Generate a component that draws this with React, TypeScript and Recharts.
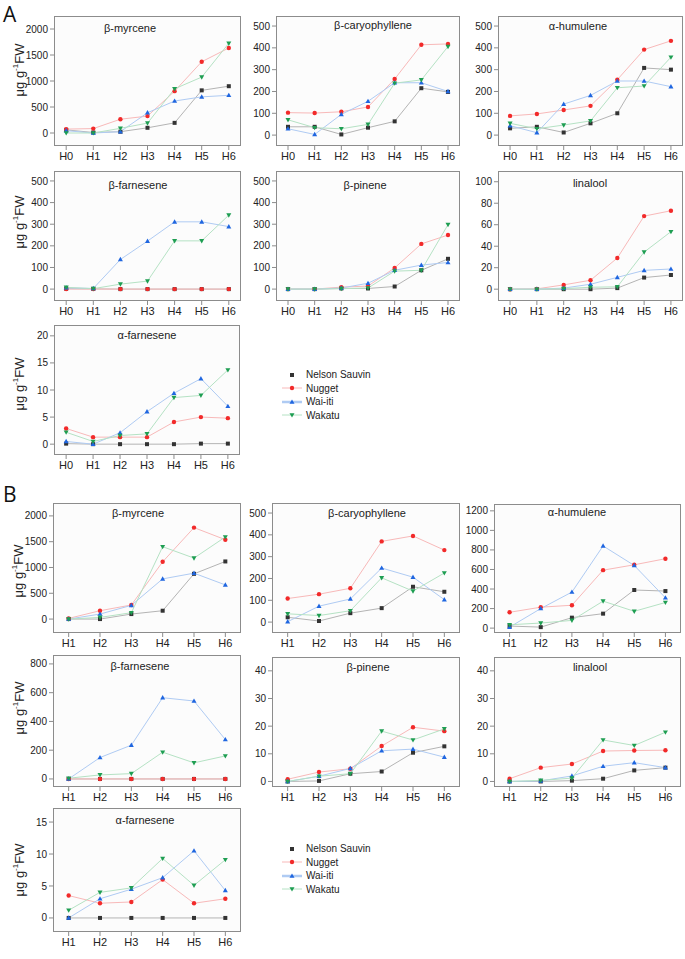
import { LineChart, Line, XAxis, YAxis, CartesianGrid } from "recharts"

const HOURS_A = ["H0", "H1", "H2", "H3", "H4", "H5", "H6"]
const HOURS_B = ["H1", "H2", "H3", "H4", "H5", "H6"]

const CULTIVARS = ["Nelson Sauvin", "Nugget", "Wai-iti", "Wakatu"]

// rows: Nelson Sauvin, Nugget, Wai-iti, Wakatu
const A_MYRCENE = [
  [60, 10, 25, 100, 195, 820, 900],
  [75, 85, 265, 325, 805, 1370, 1635],
  [45, 0, 25, 390, 615, 695, 725],
  [0, 0, 90, 190, 850, 1075, 1725],
]
const A_CARYOPHYLLENE = [
  [38, 38, 3, 34, 63, 215, 198],
  [103, 101, 107, 129, 257, 414, 418],
  [29, 3, 95, 155, 240, 240, 200],
  [70, 34, 29, 49, 238, 253, 406],
]
const A_HUMULENE = [
  [31, 38, 12, 54, 100, 308, 300],
  [88, 97, 115, 134, 254, 392, 432],
  [43, 11, 142, 182, 248, 248, 222],
  [54, 29, 46, 65, 217, 225, 357],
]
const A_B_FARNESENE = [
  [2, 1, 0, 0, 0, 0, 0],
  [0, 0, 0, 0, 0, 0, 0],
  [6, 3, 137, 222, 311, 311, 289],
  [8, 2, 23, 37, 223, 223, 342],
]
const A_PINENE = [
  [0, 0, 3, 3, 12, 87, 140],
  [0, 0, 9, 14, 98, 209, 250],
  [0, 0, 5, 27, 87, 111, 123],
  [0, 0, 2, 5, 83, 87, 298],
]
const A_LINALOOL = [
  [0, 0, 0, 0, 1, 10.8, 13.2],
  [0, 0.3, 4, 8.3, 29, 68, 73],
  [0, 0, 1, 4.6, 11, 17.5, 18.8],
  [0, 0, 0.5, 1.8, 2.2, 34.5, 53.5],
]
const A_A_FARNESENE = [
  [0.1, 0, 0, 0, 0, 0.1, 0.1],
  [2.9, 1.3, 1.3, 1.3, 4.1, 5.0, 4.8],
  [0.5, 0, 2.1, 6.0, 9.4, 12.1, 7.0],
  [2.2, 0.5, 1.6, 1.9, 8.6, 9.0, 13.7],
]

const B_MYRCENE = [
  [0, 0, 97, 162, 877, 1117],
  [13, 162, 273, 1110, 1773, 1539],
  [0, 97, 266, 779, 890, 662],
  [0, 32, 123, 1403, 1182, 1591],
]
const B_CARYOPHYLLENE = [
  [22, 5, 41, 64, 162, 139],
  [108, 128, 155, 370, 395, 330],
  [2, 73, 106, 248, 206, 103],
  [38, 30, 52, 203, 142, 225],
]
const B_HUMULENE = [
  [21, 10, 107, 148, 390, 379],
  [162, 214, 234, 593, 648, 710],
  [10, 200, 369, 841, 641, 310],
  [34, 52, 79, 276, 172, 262],
]
const B_B_FARNESENE = [
  [0, 0, 0, 0, 0, 0],
  [0, 0, 0, 0, 0, 0],
  [0, 149, 235, 565, 542, 274],
  [5, 28, 37, 186, 112, 160],
]
const B_PINENE = [
  [0, 0.2, 2.8, 3.6, 10.4, 12.7],
  [0.8, 3.4, 4.6, 12.8, 19.6, 18.2],
  [0, 1.9, 4.7, 11.1, 11.7, 8.8],
  [0, 1.9, 2.8, 18.2, 15.0, 19.0],
]
const B_LINALOOL = [
  [0, 0, 0.3, 1, 4, 5],
  [1, 5, 6.3, 11, 11.2, 11.3],
  [0, 0.2, 2, 5.5, 6.8, 5],
  [0, 0.4, 1.2, 15, 13, 17.8],
]
const B_A_FARNESENE = [
  [0, 0, 0, 0, 0, 0],
  [3.5, 2.3, 2.5, 6.0, 2.3, 3.0],
  [0, 3.0, 4.5, 6.3, 10.5, 4.3],
  [1.2, 4.0, 4.7, 9.3, 5.1, 9.1],
]

const SERIES = [
  { key: "ns", line: "#b4b4b4", mark: "#333333", shape: "square" },
  { key: "nugget", line: "#f8b9b9", mark: "#f22a2a", shape: "circle" },
  { key: "waiiti", line: "#afcbf3", mark: "#1f66e0", shape: "up" },
  { key: "wakatu", line: "#b5e2c4", mark: "#1e9e52", shape: "down" },
]

const PANELS = [
  { title: "β-myrcene", set: "A", vals: A_MYRCENE, box: [54, 16, 187, 130], domain: [-250, 2250], ticks: [0, 500, 1000, 1500, 2000], tpos: [130, 28] },
  { title: "β-caryophyllene", set: "A", vals: A_CARYOPHYLLENE, box: [276, 16, 184, 130], domain: [-50, 546], ticks: [0, 100, 200, 300, 400, 500], tpos: [373, 25] },
  { title: "α-humulene", set: "A", vals: A_HUMULENE, box: [498, 16, 185, 130], domain: [-50, 546], ticks: [0, 100, 200, 300, 400, 500], tpos: [578, 26] },
  { title: "β-farnesene", set: "A", vals: A_B_FARNESENE, box: [54, 171, 187, 130], domain: [-55, 546], ticks: [0, 100, 200, 300, 400, 500], tpos: [138, 185] },
  { title: "β-pinene", set: "A", vals: A_PINENE, box: [276, 171, 184, 130], domain: [-55, 546], ticks: [0, 100, 200, 300, 400, 500], tpos: [365, 185] },
  { title: "linalool", set: "A", vals: A_LINALOOL, box: [498, 171, 185, 130], domain: [-11, 110], ticks: [0, 20, 40, 60, 80, 100], tpos: [590, 183] },
  { title: "α-farnesene", set: "A", vals: A_A_FARNESENE, box: [54, 325, 186, 130], domain: [-2, 22], ticks: [0, 5, 10, 15, 20], tpos: [147, 335] },
  { title: "β-myrcene", set: "B", vals: B_MYRCENE, box: [53, 503, 188, 130], domain: [-270, 2250], ticks: [0, 500, 1000, 1500, 2000], tpos: [138, 513] },
  { title: "β-caryophyllene", set: "B", vals: B_CARYOPHYLLENE, box: [272, 503, 188, 130], domain: [-50, 546], ticks: [0, 100, 200, 300, 400, 500], tpos: [367, 513] },
  { title: "α-humulene", set: "B", vals: B_HUMULENE, box: [494, 504, 187, 129], domain: [-50, 1270], ticks: [0, 200, 400, 600, 800, 1000, 1200], tpos: [577, 512] },
  { title: "β-farnesene", set: "B", vals: B_B_FARNESENE, box: [53, 655, 188, 132], domain: [-56, 862], ticks: [0, 200, 400, 600, 800], tpos: [140, 666] },
  { title: "β-pinene", set: "B", vals: B_PINENE, box: [272, 657, 188, 130], domain: [-2, 45], ticks: [0, 10, 20, 30, 40], tpos: [368, 667] },
  { title: "linalool", set: "B", vals: B_LINALOOL, box: [494, 657, 187, 130], domain: [-2, 45], ticks: [0, 10, 20, 30, 40], tpos: [590, 667] },
  { title: "α-farnesene", set: "B", vals: B_A_FARNESENE, box: [53, 808, 188, 124], domain: [-2.2, 17.2], ticks: [0, 5, 10, 15], tpos: [145, 820] },
]

const FONT = "'Liberation Sans', Arial, sans-serif"
const YW = 40
const MT = 4
const MR = 4
const XH = 22
const AXIS = "#8c8c8c"

function Marker({ cx, cy, shape, color, r = 2 }: any) {
  if (cx == null || cy == null) return null
  if (shape === "square") return <rect x={cx - r} y={cy - r} width={r * 2} height={r * 2} fill={color} />
  if (shape === "circle") return <circle cx={cx} cy={cy} r={r + 0.2} fill={color} />
  if (shape === "up")
    return <polygon points={`${cx},${cy - r - 0.6} ${cx - r - 0.5},${cy + r - 0.2} ${cx + r + 0.5},${cy + r - 0.2}`} fill={color} />
  return <polygon points={`${cx},${cy + r + 0.6} ${cx - r - 0.5},${cy - r + 0.2} ${cx + r + 0.5},${cy - r + 0.2}`} fill={color} />
}

function Panel({ p }: any) {
  const labels = p.set === "A" ? HOURS_A : HOURS_B
  const start = p.set === "A" ? 0 : 1
  const xDomain = p.set === "A" ? [-0.45, 6.45] : [0.5, 6.5]
  const rows = labels.map((l: string, i: number) => ({
    x: i + start,
    label: l,
    ns: p.vals[0][i],
    nugget: p.vals[1][i],
    waiiti: p.vals[2][i],
    wakatu: p.vals[3][i],
  }))
  const [bx, by, bw, bh] = p.box
  return (
    <>
      <div style={{ position: "absolute", left: bx - YW, top: by - MT }}>
        <LineChart width={bw + YW + MR} height={bh + MT + XH} data={rows} margin={{ top: MT, right: MR, left: 0, bottom: 0 }}>
          <CartesianGrid horizontal={false} vertical={false} fill="#fcfcfc" />
          <XAxis
            type="number"
            dataKey="x"
            domain={xDomain}
            ticks={rows.map((r: any) => r.x)}
            tickFormatter={(v: number) => "H" + v}
            allowDataOverflow
            interval={0}
            height={XH}
            stroke={AXIS}
            axisLine={false}
            tickSize={4}
            tick={{ fill: "#222", fontSize: 11, fontFamily: FONT }}
          />
          <YAxis
            type="number"
            domain={p.domain}
            ticks={p.ticks}
            allowDataOverflow
            interval={0}
            width={YW}
            stroke={AXIS}
            axisLine={false}
            tickSize={4}
            tick={{ fill: "#222", fontSize: 10, fontFamily: FONT }}
          />
          {SERIES.map((s) => (
            <Line
              key={s.key}
              dataKey={s.key}
              type="linear"
              stroke={s.line}
              strokeWidth={1}
              isAnimationActive={false}
              dot={(props: any) => <Marker key={`${s.key}-${props.index}`} cx={props.cx} cy={props.cy} shape={s.shape} color={s.mark} />}
              activeDot={false}
            />
          ))}
        </LineChart>
      </div>
      <div
        style={{
          position: "absolute",
          left: bx,
          top: by,
          width: bw,
          height: bh,
          boxSizing: "border-box",
          border: `1px solid ${AXIS}`,
          pointerEvents: "none",
        }}
      />
      <div
        style={{
          position: "absolute",
          left: p.tpos[0],
          top: p.tpos[1],
          transform: "translate(-50%, -50%)",
          fontFamily: FONT,
          fontSize: 11,
          color: "#222",
          whiteSpace: "nowrap",
        }}
      >
        {p.title}
      </div>
    </>
  )
}

function YLabel({ x, y }: { x: number; y: number }) {
  return (
    <div
      style={{
        position: "absolute",
        left: x,
        top: y,
        transform: "translate(-50%, -50%) rotate(-90deg)",
        fontFamily: FONT,
        fontSize: 13,
        color: "#222",
        whiteSpace: "nowrap",
      }}
    >
      μg g<sup style={{ fontSize: 8 }}>-1</sup>FW
    </div>
  )
}

function LegendBox({ x, y }: { x: number; y: number }) {
  return (
    <div style={{ position: "absolute", left: x, top: y, fontFamily: FONT, fontSize: 10, color: "#222" }}>
      {CULTIVARS.map((name, i) => (
        <div key={name} style={{ display: "flex", alignItems: "center", height: 13.5 }}>
          <svg width={22} height={10}>
            {i > 0 && <line x1={1} y1={5} x2={21} y2={5} stroke={SERIES[i].line} strokeWidth={i === 2 ? 2.5 : 1} />}
            <Marker cx={11} cy={5} shape={SERIES[i].shape} color={SERIES[i].mark} />
          </svg>
          <span style={{ marginLeft: 3 }}>{name}</span>
        </div>
      ))}
    </div>
  )
}

export default function App() {
  return (
    <div style={{ position: "absolute", left: 0, top: 0, width: 685, height: 959, background: "#fff", overflow: "hidden" }}>
      <div style={{ position: "absolute", left: 3, top: 0, fontFamily: "'Open Sans', sans-serif", fontSize: 21, lineHeight: "28px", color: "#111" }}>A</div>
      <div style={{ position: "absolute", left: 3, top: 480, fontFamily: "'Open Sans', sans-serif", fontSize: 21, lineHeight: "28px", color: "#111" }}>B</div>
      {PANELS.map((p, i) => (
        <Panel key={i} p={p} />
      ))}
      <YLabel x={19} y={70} />
      <YLabel x={19} y={222} />
      <YLabel x={19} y={384} />
      <YLabel x={18} y={571} />
      <YLabel x={19} y={708} />
      <YLabel x={19} y={870} />
      <LegendBox x={281} y={368} />
      <LegendBox x={281} y={842} />
    </div>
  )
}
